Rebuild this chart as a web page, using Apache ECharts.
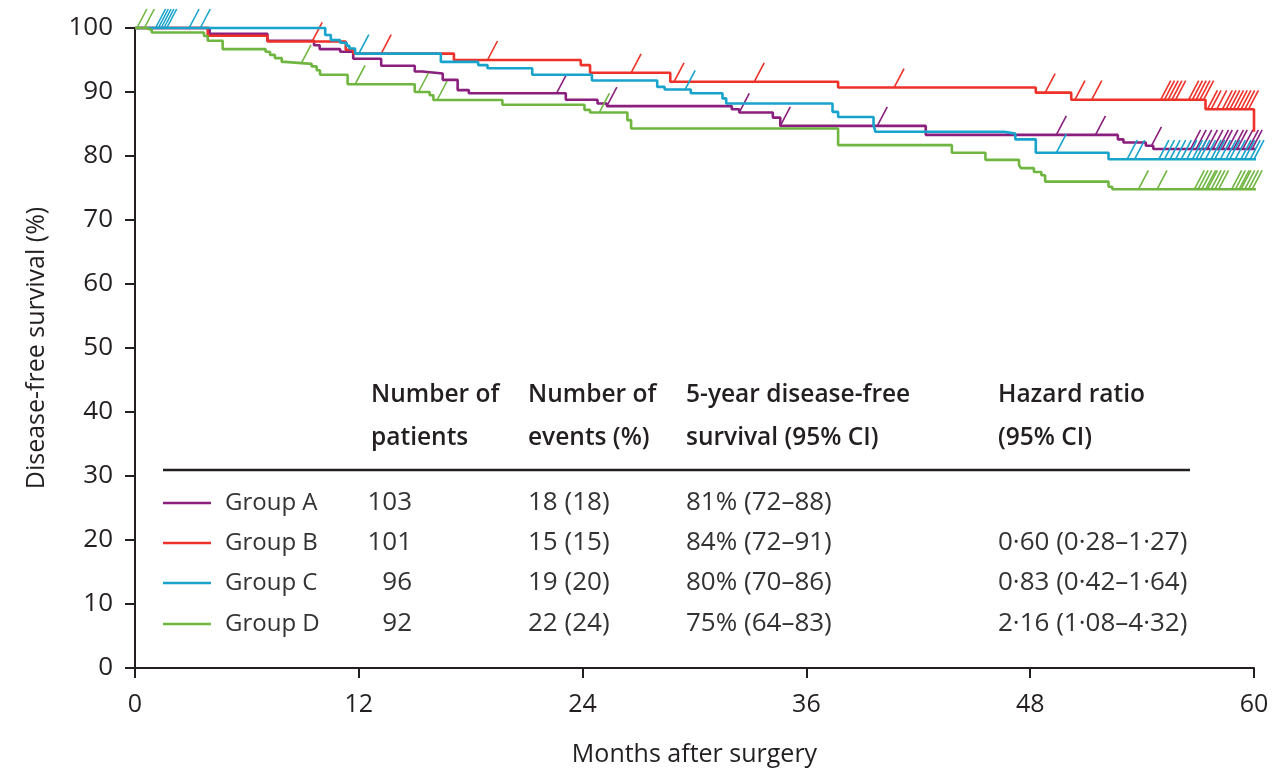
<!DOCTYPE html>
<html>
<head>
<meta charset="utf-8">
<script src="https://cdn.jsdelivr.net/npm/echarts@6/dist/echarts.min.js"></script>
<style>
  html, body { margin: 0; padding: 0; background: #fff; }
  #chart { width: 1274px; height: 773px; }
</style>
</head>
<body>
<div id="chart"></div>
<script>
// Kaplan-Meier disease-free survival by group (months, % surviving)
const xTicks = [0, 12, 24, 36, 48, 60];

const groupNames = ['Group A', 'Group B', 'Group C', 'Group D'];
const groupColors = ['#8a1f7e', '#ee3129', '#17a3cb', '#6fb640'];

// step times (months) and survival (%) after each step
const timesA = [0, 4.0, 7.1, 9.6, 9.9, 11.0, 11.7, 13.2, 15.0, 15.4, 16.5, 17.3, 17.9, 23.1, 24.8, 25.3, 32.0, 32.4, 34.2, 34.6, 42.4, 52.7, 53.0, 54.2, 54.6, 60.3];
const survA  = [100, 99.1, 98.0, 97.3, 96.7, 96.3, 95.2, 94.1, 93.2, 92.9, 91.9, 90.3, 89.8, 88.8, 88.2, 87.8, 87.3, 86.8, 86.0, 84.7, 83.3, 82.6, 82.1, 81.6, 81.1, 81.1];

const timesB = [0, 3.9, 7.1, 11.3, 11.7, 17.1, 23.9, 24.4, 28.7, 37.7, 48.3, 50.2, 57.4, 60.0];
const survB  = [100, 98.8, 97.9, 96.6, 96.0, 95.0, 94.2, 93.0, 91.6, 90.7, 89.9, 88.8, 87.3, 83.8];

const timesC = [0, 10.2, 10.5, 11.0, 11.35, 11.5, 11.8, 16.4, 18.4, 18.9, 21.3, 24.5, 28.0, 28.4, 29.8, 31.5, 31.7, 37.4, 37.7, 39.6, 39.7, 46.6, 47.2, 48.3, 52.2, 60.2];
const survC  = [100, 98.9, 98.1, 97.7, 97.2, 96.8, 96.0, 94.7, 94.2, 93.7, 92.7, 91.8, 90.8, 90.4, 89.8, 89.0, 88.2, 86.9, 86.1, 84.8, 83.8, 83.5, 82.6, 80.5, 79.5, 79.5];

const timesD = [0, 0.6, 0.9, 3.7, 3.9, 4.7, 7.0, 7.24, 7.5, 7.87, 8.04, 9.47, 9.74, 9.92, 11.4, 15.0, 15.8, 16.0, 19.7, 24.1, 24.4, 26.4, 26.6, 37.7, 43.8, 45.6, 47.4, 47.5, 48.2, 48.6, 48.8, 52.2, 52.4, 60.1];
const survD  = [100, 99.7, 99.3, 98.75, 98.0, 96.7, 96.3, 95.8, 95.3, 94.7, 94.4, 94.0, 93.4, 92.7, 91.2, 90.0, 89.5, 88.75, 88.0, 87.2, 86.8, 85.6, 84.3, 81.7, 80.5, 79.4, 78.6, 78.1, 77.5, 77.0, 76.0, 75.2, 74.8, 74.8];

// censoring times (months)
const censorA = [22.6, 25.3, 32.4, 34.6, 39.8, 49.4, 51.5, 54.5, 56.6, 56.9, 57.2, 57.5, 57.8, 58.1, 58.3, 58.6, 58.9, 59.1, 59.4, 59.7, 59.9];
const censorB = [9.5, 13.2, 18.9, 26.6, 28.9, 33.2, 40.7, 48.8, 50.4, 51.3, 55.0, 55.2, 55.4, 55.6, 55.8, 56.5, 56.7, 56.9, 57.1, 57.3, 57.5, 57.7, 58.0, 58.3, 58.5, 58.7, 58.9, 59.1, 59.3, 59.5, 59.7];
const censorC = [1.1, 1.25, 1.4, 1.55, 1.7, 2.9, 3.5, 12.0, 29.5, 49.4, 53.2, 53.6, 54.9, 55.2, 55.5, 55.8, 56.1, 56.4, 56.7, 56.9, 57.1, 57.4, 57.7, 57.9, 58.2, 58.5, 58.7, 59.0, 59.3, 59.5, 59.8, 60.0];
const censorD = [0.1, 0.5, 8.9, 11.8, 15.2, 16.2, 24.9, 53.8, 54.8, 56.8, 57.0, 57.2, 57.4, 57.5, 57.7, 57.9, 58.1, 58.8, 59.0, 59.2, 59.3, 59.5, 59.7, 59.9];

// summary table
const tableHeaders = [['Number of', 'patients'], ['Number of', 'events (%)'], ['5-year disease-free', 'survival (95% CI)'], ['Hazard ratio', '(95% CI)']];
const patients = ['103', '101', '96', '92'];
const eventCounts = ['18 (18)', '15 (15)', '19 (20)', '22 (24)'];
const dfs5y = ['81% (72–88)', '84% (72–91)', '80% (70–86)', '75% (64–83)'];
const hazardRatios = ['', '0·60 (0·28–1·27)', '0·83 (0·42–1·64)', '2·16 (1·08–4·32)'];

const FONT = '"Open Sans", "Noto Sans", sans-serif';
const INK = '#231f20';

const stepTimes = [timesA, timesB, timesC, timesD];
const stepSurv = [survA, survB, survC, survD];
const censors = [censorA, censorB, censorC, censorD];

function survivalAt(times, surv, t) {
  let s = surv[0];
  for (let i = 0; i < times.length; i++) {
    if (times[i] <= t) s = surv[i]; else break;
  }
  return s;
}

const series = [];
const zOrder = [2, 3, 4, 5];
for (let g = 0; g < 4; g++) {
  const color = groupColors[g];
  series.push({
    name: groupNames[g],
    type: 'line',
    step: 'end',
    showSymbol: false,
    clip: false,
    z: zOrder[g],
    silent: true,
    lineStyle: { color: color, width: 2.6 },
    data: stepTimes[g].map((t, i) => [t, stepSurv[g][i]])
  });
  series.push({
    name: groupNames[g] + ' censored',
    type: 'custom',
    clip: false,
    z: zOrder[g],
    silent: true,
    data: censors[g].map(t => [t, survivalAt(stepTimes[g], stepSurv[g], t)]),
    encode: { x: 0, y: 1 },
    renderItem: function (params, api) {
      const p = api.coord([api.value(0), api.value(1)]);
      return {
        type: 'line',
        shape: { x1: p[0], y1: p[1], x2: p[0] + 10, y2: p[1] - 19 },
        style: { stroke: color, lineWidth: 1.6 }
      };
    }
  });
}

// table drawn as graphic text
const colX = [371, 528, 686, 998];
const headerY = [395, 438];
const rowY = [503, 543, 583, 624];
const graphics = [];
tableHeaders.forEach((lines, c) => {
  lines.forEach((txt, l) => {
    graphics.push({
      type: 'text', x: colX[c], y: headerY[l],
      style: { text: txt, font: '600 24.5px ' + FONT, fill: INK, align: 'left', verticalAlign: 'middle' }
    });
  });
});
graphics.push({
  type: 'line', shape: { x1: 163, y1: 470, x2: 1190, y2: 470 },
  style: { stroke: INK, lineWidth: 2.5 }
});
for (let r = 0; r < 4; r++) {
  const y = rowY[r];
  graphics.push({ type: 'line', shape: { x1: 163, y1: y, x2: 211, y2: y }, style: { stroke: groupColors[r], lineWidth: 2.6 } });
  const cells = [
    { x: 225, text: groupNames[r], align: 'left', size: 24 },
    { x: 412, text: patients[r], align: 'right', size: 26 },
    { x: colX[1], text: eventCounts[r], align: 'left', size: 26 },
    { x: colX[2], text: dfs5y[r], align: 'left', size: 26 },
    { x: colX[3], text: hazardRatios[r], align: 'left', size: 26 }
  ];
  cells.forEach(cell => {
    graphics.push({
      type: 'text', x: cell.x, y: y,
      style: { text: cell.text, font: cell.size + 'px ' + FONT, fill: '#333', align: cell.align, verticalAlign: 'middle' }
    });
  });
}

const chart = echarts.init(document.getElementById('chart'), null, { renderer: 'canvas' });
chart.setOption({
  animation: false,
  backgroundColor: '#fff',
  grid: { left: 135, right: 20, top: 28, bottom: 105, containLabel: false },
  xAxis: {
    type: 'value', min: xTicks[0], max: xTicks[xTicks.length - 1], interval: 12,
    name: 'Months after surgery', nameLocation: 'middle', nameGap: 74,
    nameTextStyle: { fontSize: 25, fontFamily: FONT, color: INK },
    axisLine: { lineStyle: { color: INK, width: 2 } },
    axisTick: { length: 10, lineStyle: { color: INK, width: 2 } },
    axisLabel: { fontSize: 25, fontFamily: FONT, color: INK, margin: 24 },
    splitLine: { show: false }
  },
  yAxis: {
    type: 'value', min: 0, max: 100, interval: 10,
    name: 'Disease-free survival (%)', nameLocation: 'middle', nameGap: 86,
    nameTextStyle: { fontSize: 25, fontFamily: FONT, color: INK },
    axisLine: { show: true, lineStyle: { color: INK, width: 2 } },
    axisTick: { show: true, length: 10, lineStyle: { color: INK, width: 2 } },
    axisLabel: { fontSize: 26, fontFamily: FONT, color: INK, margin: 22 },
    splitLine: { show: false }
  },
  series: series,
  graphic: graphics
});
</script>
</body>
</html>
